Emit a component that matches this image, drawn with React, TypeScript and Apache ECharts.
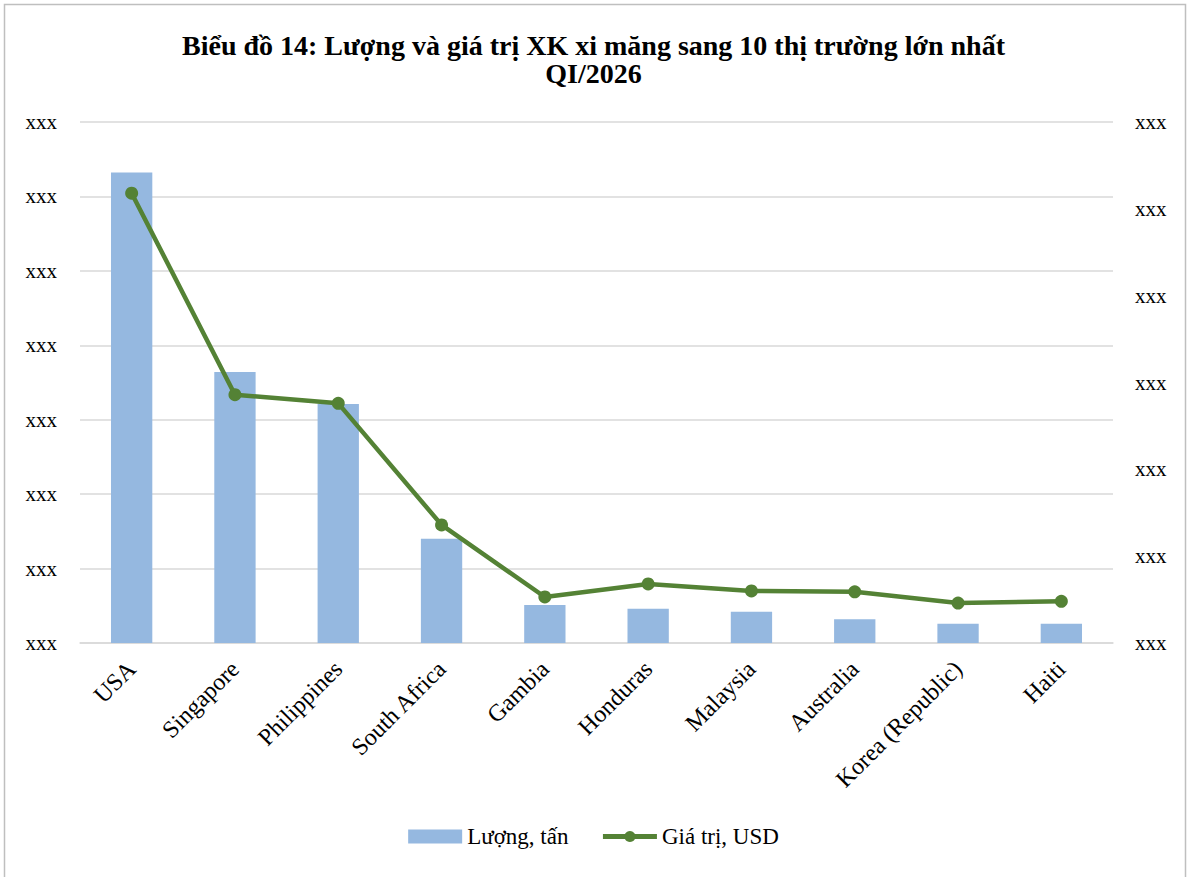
import React, { useEffect, useRef } from "react";
import * as echarts from "echarts";

const categories = ["USA", "Singapore", "Philippines", "South Africa", "Gambia", "Honduras", "Malaysia", "Australia", "Korea (Republic)", "Haiti"];
const volume = [6.32, 3.64, 3.21, 1.4, 0.51, 0.46, 0.42, 0.32, 0.26, 0.26];
const value = [5.18, 2.86, 2.76, 1.36, 0.53, 0.68, 0.6, 0.59, 0.46, 0.48];
const titleLines = ["Biểu đồ 14: Lượng và giá trị XK xi măng sang 10 thị trường lớn nhất", "QI/2026"];
const tickLabel = "xxx";

const FONT = "'Liberation Serif', 'DejaVu Serif', serif";

export default function App() {
  const ref = useRef<HTMLDivElement>(null);
  useEffect(() => {
    if (!ref.current) return;
    const chart = echarts.init(ref.current, undefined, { renderer: "svg" });
    chart.setOption({
      animation: false,
      backgroundColor: "#fff",
      textStyle: { fontFamily: FONT },
      title: {
        text: titleLines.join("\n"),
        left: "center",
        top: 26,
        textStyle: { fontFamily: FONT, fontWeight: "bold", fontSize: 28, color: "#000", lineHeight: 28 },
      },
      graphic: [
        {
          type: "rect",
          shape: { x: 4.5, y: 4.5, width: 1181, height: 880 },
          style: { fill: "none", stroke: "#bfbfbf", lineWidth: 1.5 },
          silent: true,
        },
      ],
      grid: { left: 80, right: 74, top: 122, bottom: 234, containLabel: false },
      legend: {
        bottom: 24,
        left: "center",
        itemGap: 32,
        itemWidth: 54,
        itemHeight: 14,
        textStyle: { fontFamily: FONT, fontSize: 23, color: "#000" },
        data: [
          { name: "Lượng, tấn", icon: "rect", itemStyle: { color: "#95b8e0" } },
          { name: "Giá trị, USD", lineStyle: { width: 5, color: "#548235" }, itemStyle: { color: "#548235" } },
        ],
      },
      xAxis: {
        type: "category",
        data: categories,
        axisTick: { show: false },
        axisLine: { lineStyle: { color: "#d9d9d9", width: 1.5 } },
        axisLabel: { rotate: 45, fontSize: 24, color: "#000", fontFamily: FONT, margin: 22, interval: 0 },
      },
      yAxis: [
        {
          type: "value",
          min: 0,
          max: 7,
          interval: 1,
          axisLabel: { formatter: () => tickLabel, fontSize: 21, color: "#000", fontFamily: FONT, margin: 23 },
          splitLine: { lineStyle: { color: "#d9d9d9", width: 1.5 } },
          axisLine: { show: false },
          axisTick: { show: false },
        },
        {
          type: "value",
          min: 0,
          max: 6,
          interval: 1,
          axisLabel: { formatter: () => tickLabel, fontSize: 21, color: "#000", fontFamily: FONT, margin: 22 },
          splitLine: { show: false },
          axisLine: { show: false },
          axisTick: { show: false },
        },
      ],
      series: [
        {
          name: "Lượng, tấn",
          type: "bar",
          data: volume,
          yAxisIndex: 0,
          barWidth: "40%",
          itemStyle: { color: "#95b8e0" },
        },
        {
          name: "Giá trị, USD",
          type: "line",
          data: value,
          yAxisIndex: 1,
          symbol: "circle",
          symbolSize: 13,
          lineStyle: { color: "#548235", width: 4.5 },
          itemStyle: { color: "#548235" },
        },
      ],
    });
    return () => chart.dispose();
  }, []);
  return <div ref={ref} style={{ position: "absolute", left: 0, top: 0, width: 1187, height: 877 }} />;
}
